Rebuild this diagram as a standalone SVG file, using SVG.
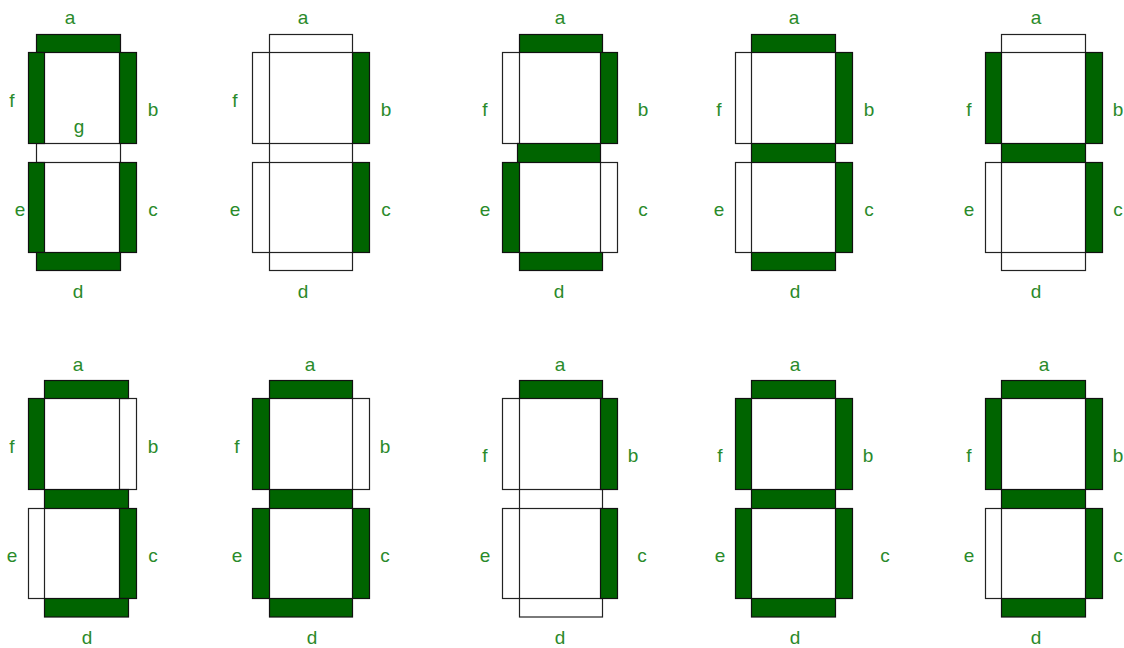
<svg xmlns="http://www.w3.org/2000/svg" width="1124" height="648" viewBox="0 0 1124 648">
<style>
.on{fill:#006400;stroke:#111;stroke-width:1.2}
.off{fill:none;stroke:#222;stroke-width:1.2}
text{font-family:"Liberation Sans",Arial,sans-serif;font-size:19px;fill:#2a8a2a;text-anchor:middle}
</style>
<rect width="1124" height="648" fill="#fff"/>
<g id="digit0">
<rect class="off" x="36.5" y="143.5" width="84" height="19"/>
<rect class="on" x="36.5" y="34.5" width="84" height="18"/>
<rect class="on" x="28.5" y="52.5" width="16" height="91"/>
<rect class="on" x="119.5" y="52.5" width="17" height="91"/>
<rect class="on" x="28.5" y="162.5" width="16" height="90"/>
<rect class="on" x="119.5" y="162.5" width="17" height="90"/>
<rect class="on" x="36.5" y="252.5" width="84" height="18"/>
<text x="70" y="24">a</text><text x="12" y="106.5">f</text><text x="153" y="115.5">b</text><text x="79" y="133">g</text><text x="20" y="216">e</text><text x="153" y="216">c</text><text x="78" y="298">d</text>
</g>
<g id="digit1">
<rect class="off" x="269.5" y="34.5" width="83" height="18"/>
<rect class="off" x="252.5" y="52.5" width="17" height="91"/>
<rect class="off" x="269.5" y="143.5" width="83" height="19"/>
<rect class="off" x="252.5" y="162.5" width="17" height="90"/>
<rect class="off" x="269.5" y="252.5" width="83" height="18"/>
<rect class="on" x="352.5" y="52.5" width="17" height="91"/>
<rect class="on" x="352.5" y="162.5" width="17" height="90"/>
<text x="303" y="24">a</text><text x="235" y="106.5">f</text><text x="386" y="115.5">b</text><text x="235" y="216">e</text><text x="386" y="216">c</text><text x="303" y="298">d</text>
</g>
<g id="digit2">
<rect class="off" x="502.5" y="52.5" width="17" height="91"/>
<rect class="off" x="600.5" y="162.5" width="17" height="90"/>
<rect class="on" x="519.5" y="34.5" width="83" height="18"/>
<rect class="on" x="600.5" y="52.5" width="17" height="91"/>
<rect class="on" x="517.5" y="143.5" width="83" height="19"/>
<rect class="on" x="502.5" y="162.5" width="17" height="90"/>
<rect class="on" x="519.5" y="252.5" width="83" height="18"/>
<text x="560" y="24">a</text><text x="485" y="115.5">f</text><text x="643" y="115.5">b</text><text x="485" y="216">e</text><text x="643" y="216">c</text><text x="559" y="298">d</text>
</g>
<g id="digit3">
<rect class="off" x="735.5" y="52.5" width="16" height="91"/>
<rect class="off" x="735.5" y="162.5" width="16" height="90"/>
<rect class="on" x="751.5" y="34.5" width="84" height="18"/>
<rect class="on" x="835.5" y="52.5" width="17" height="91"/>
<rect class="on" x="751.5" y="143.5" width="84" height="19"/>
<rect class="on" x="835.5" y="162.5" width="17" height="90"/>
<rect class="on" x="751.5" y="252.5" width="84" height="18"/>
<text x="794" y="24">a</text><text x="719" y="115.5">f</text><text x="869" y="115.5">b</text><text x="719" y="216">e</text><text x="869" y="216">c</text><text x="795" y="298">d</text>
</g>
<g id="digit4">
<rect class="off" x="1001.5" y="34.5" width="84" height="18"/>
<rect class="off" x="985.5" y="162.5" width="16" height="90"/>
<rect class="off" x="1001.5" y="252.5" width="84" height="18"/>
<rect class="on" x="985.5" y="52.5" width="16" height="91"/>
<rect class="on" x="1085.5" y="52.5" width="17" height="91"/>
<rect class="on" x="1001.5" y="143.5" width="84" height="19"/>
<rect class="on" x="1085.5" y="162.5" width="17" height="90"/>
<text x="1036" y="24">a</text><text x="969" y="115.5">f</text><text x="1118" y="115.5">b</text><text x="969" y="216">e</text><text x="1118" y="216">c</text><text x="1036" y="298">d</text>
</g>
<g id="digit5">
<rect class="off" x="119.5" y="398.5" width="17" height="91"/>
<rect class="off" x="28.5" y="508.5" width="16" height="90"/>
<rect class="on" x="44.5" y="380.5" width="84" height="18"/>
<rect class="on" x="28.5" y="398.5" width="16" height="91"/>
<rect class="on" x="44.5" y="489.5" width="84" height="19"/>
<rect class="on" x="119.5" y="508.5" width="17" height="90"/>
<rect class="on" x="44.5" y="598.5" width="84" height="18.5"/>
<text x="78" y="370.5">a</text><text x="12" y="453">f</text><text x="153" y="453">b</text><text x="12" y="562">e</text><text x="153" y="562">c</text><text x="87" y="643.5">d</text>
</g>
<g id="digit6">
<rect class="off" x="352.5" y="398.5" width="17" height="91"/>
<rect class="on" x="269.5" y="380.5" width="83" height="18"/>
<rect class="on" x="252.5" y="398.5" width="17" height="91"/>
<rect class="on" x="269.5" y="489.5" width="83" height="19"/>
<rect class="on" x="252.5" y="508.5" width="17" height="90"/>
<rect class="on" x="352.5" y="508.5" width="17" height="90"/>
<rect class="on" x="269.5" y="598.5" width="83" height="18.5"/>
<text x="310" y="370.5">a</text><text x="237" y="453">f</text><text x="385" y="453">b</text><text x="237" y="562">e</text><text x="385" y="562">c</text><text x="312" y="643.5">d</text>
</g>
<g id="digit7">
<rect class="off" x="502.5" y="398.5" width="17" height="91"/>
<rect class="off" x="519.5" y="489.5" width="83" height="19"/>
<rect class="off" x="502.5" y="508.5" width="17" height="90"/>
<rect class="off" x="519.5" y="598.5" width="83" height="18.5"/>
<rect class="on" x="519.5" y="380.5" width="83" height="18"/>
<rect class="on" x="600.5" y="398.5" width="17" height="91"/>
<rect class="on" x="600.5" y="508.5" width="17" height="90"/>
<text x="560" y="370.5">a</text><text x="485" y="461.5">f</text><text x="633" y="461.5">b</text><text x="485" y="562">e</text><text x="642" y="562">c</text><text x="560" y="643.5">d</text>
</g>
<g id="digit8">
<rect class="on" x="751.5" y="380.5" width="84" height="18"/>
<rect class="on" x="735.5" y="398.5" width="16" height="91"/>
<rect class="on" x="835.5" y="398.5" width="17" height="91"/>
<rect class="on" x="751.5" y="489.5" width="84" height="19"/>
<rect class="on" x="735.5" y="508.5" width="16" height="90"/>
<rect class="on" x="835.5" y="508.5" width="17" height="90"/>
<rect class="on" x="751.5" y="598.5" width="84" height="18.5"/>
<text x="795" y="370.5">a</text><text x="720" y="461.5">f</text><text x="868" y="461.5">b</text><text x="720" y="562">e</text><text x="885" y="562">c</text><text x="795" y="643.5">d</text>
</g>
<g id="digit9">
<rect class="off" x="985.5" y="508.5" width="16" height="90"/>
<rect class="on" x="1001.5" y="380.5" width="84" height="18"/>
<rect class="on" x="985.5" y="398.5" width="16" height="91"/>
<rect class="on" x="1085.5" y="398.5" width="17" height="91"/>
<rect class="on" x="1001.5" y="489.5" width="84" height="19"/>
<rect class="on" x="1085.5" y="508.5" width="17" height="90"/>
<rect class="on" x="1001.5" y="598.5" width="84" height="18.5"/>
<text x="1044" y="370.5">a</text><text x="969" y="461.5">f</text><text x="1118" y="461.5">b</text><text x="969" y="562">e</text><text x="1118" y="562">c</text><text x="1036" y="643.5">d</text>
</g>
<g id="connectors"/>
</svg>
